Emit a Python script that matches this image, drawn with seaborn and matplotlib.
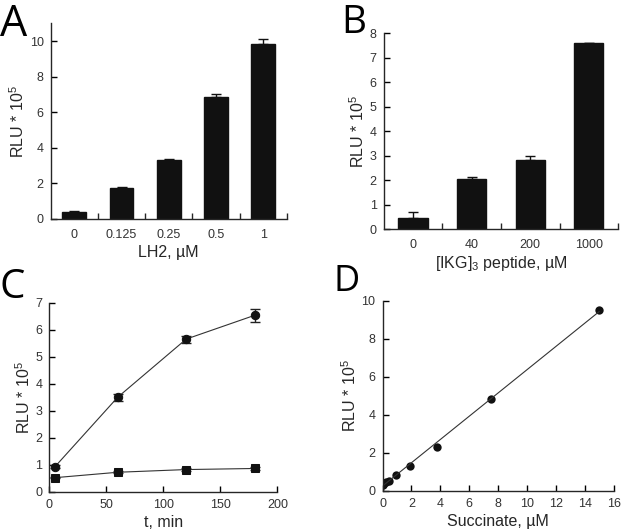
import numpy as np
import pandas as pd
import matplotlib
matplotlib.use("Agg")
import matplotlib.pyplot as plt
import seaborn as sns

# panel A
lh2_labels = ["0", "0.125", "0.25", "0.5", "1"]
lh2_rlu = [0.40, 1.72, 3.33, 6.85, 9.82]
lh2_err = [0.04, 0.07, 0.07, 0.20, 0.28]

# panel B
ikg_labels = ["0", "40", "200", "1000"]
ikg_rlu = [0.45, 2.07, 2.82, 7.60]
ikg_err = [0.25, 0.06, 0.17, 0.03]

# panel C
t_min = [5, 60, 120, 180]
rlu_circle = [0.93, 3.50, 5.65, 6.53]
err_circle = [0.05, 0.13, 0.13, 0.25]
rlu_square = [0.52, 0.72, 0.82, 0.86]
err_square = [0.03, 0.04, 0.05, 0.05]

# panel D
succinate = [0.0, 0.06, 0.12, 0.23, 0.47, 0.94, 1.875, 3.75, 7.5, 15.0]
rlu_succ = [0.30, 0.35, 0.40, 0.48, 0.53, 0.80, 1.28, 2.30, 4.85, 9.50]

sns.set_style("white")
plt.rcParams['font.family'] = ['Liberation Sans', 'DejaVu Sans']
plt.rcParams['mathtext.fontset'] = 'custom'
plt.rcParams['mathtext.rm'] = 'Liberation Sans'
plt.rcParams['mathtext.it'] = 'Liberation Sans:italic'
plt.rcParams['axes.linewidth'] = 1.0

fig = plt.figure(figsize=(6.25, 5.31), dpi=100)
axA = fig.add_axes([0.081, 0.5876, 0.378, 0.3684])
axB = fig.add_axes([0.614, 0.568, 0.375, 0.369])
axC = fig.add_axes([0.079, 0.074, 0.3647, 0.356])
axD = fig.add_axes([0.612, 0.0759, 0.370, 0.3578])

ylab = "RLU * 10$^5$"
tick_col = "#333333"
lab_fs = 11.5


def style(ax):
    sns.despine(ax=ax)
    ax.tick_params(axis="both", which="both", bottom=True, left=True)
    ax.tick_params(axis="both", direction="in", length=4, width=1,
                   labelsize=9, colors="black", labelcolor=tick_col, pad=5)
    ax.set_ylabel(ylab, fontsize=lab_fs, labelpad=2)


def bars(ax, labels, vals, errs):
    df = pd.DataFrame({"x": labels, "y": vals})
    sns.barplot(data=df, x="x", y="y", color="#111111", width=0.5,
                saturation=1, errorbar=None, ax=ax, edgecolor="#111111")
    n = len(labels)
    ax.errorbar(np.arange(n), vals, yerr=[np.zeros(n), errs], fmt="none",
                ecolor="#111111", elinewidth=1, capsize=3.5, capthick=1)
    ax.set_xlim(-0.5, n - 0.5)
    ax.set_xticks(np.arange(n) + 0.5, minor=True)


def bar_ticks(ax):
    ax.tick_params(axis="x", which="major", length=0, pad=7)
    ax.tick_params(axis="x", which="minor", bottom=True, direction="in",
                   length=4, width=1)


# A
bars(axA, lh2_labels, lh2_rlu, lh2_err)
style(axA)
bar_ticks(axA)
axA.set_ylim(0, 11)
axA.set_yticks([0, 2, 4, 6, 8, 10])
axA.set_xlabel("LH2, µM", fontsize=lab_fs, labelpad=3)

# B
bars(axB, ikg_labels, ikg_rlu, ikg_err)
style(axB)
bar_ticks(axB)
axB.set_ylim(0, 8)
axB.set_yticks(range(0, 9))
axB.set_xlabel("[IKG]$_3$ peptide, µM", fontsize=lab_fs, labelpad=2)

# C
axC.errorbar(t_min, rlu_circle, yerr=err_circle, fmt="none", ecolor="#222222",
             elinewidth=1, capsize=3.5, capthick=1)
axC.errorbar(t_min, rlu_square, yerr=err_square, fmt="none", ecolor="#222222",
             elinewidth=1, capsize=3.5, capthick=1)
sns.lineplot(x=t_min, y=rlu_circle, ax=axC, color="#333333", lw=0.8,
             marker="o", markersize=6, markerfacecolor="#111111",
             markeredgecolor="#111111")
sns.lineplot(x=t_min, y=rlu_square, ax=axC, color="#333333", lw=0.8,
             marker="s", markersize=6, markerfacecolor="#111111",
             markeredgecolor="#111111")
style(axC)
axC.set_xlim(0, 200)
axC.set_ylim(0, 7)
axC.set_xticks([0, 50, 100, 150, 200])
axC.set_yticks(range(0, 8))
axC.set_xlabel("t, min", fontsize=lab_fs, labelpad=3)

# D
sns.regplot(x=succinate, y=rlu_succ, ax=axD, ci=None, truncate=True,
            scatter_kws=dict(s=36, color="#111111", alpha=1, linewidths=0),
            line_kws=dict(color="#333333", lw=0.8))
style(axD)
axD.set_xlim(0, 16)
axD.set_ylim(0, 10)
axD.set_xticks(range(0, 17, 2))
axD.set_yticks(range(0, 11, 2))
axD.set_xlabel("Succinate, µM", fontsize=lab_fs, labelpad=3)

# panel letters
for lab, x, y, fs in [("A", 0.0, 0.995, 31), ("B", 0.546, 0.993, 28),
                      ("C", 0.0, 0.497, 29), ("D", 0.533, 0.503, 26)]:
    fig.text(x, y, lab, fontsize=fs, family="Open Sans", va="top", ha="left",
             color="black")

fig.savefig("out.png", dpi=100)
